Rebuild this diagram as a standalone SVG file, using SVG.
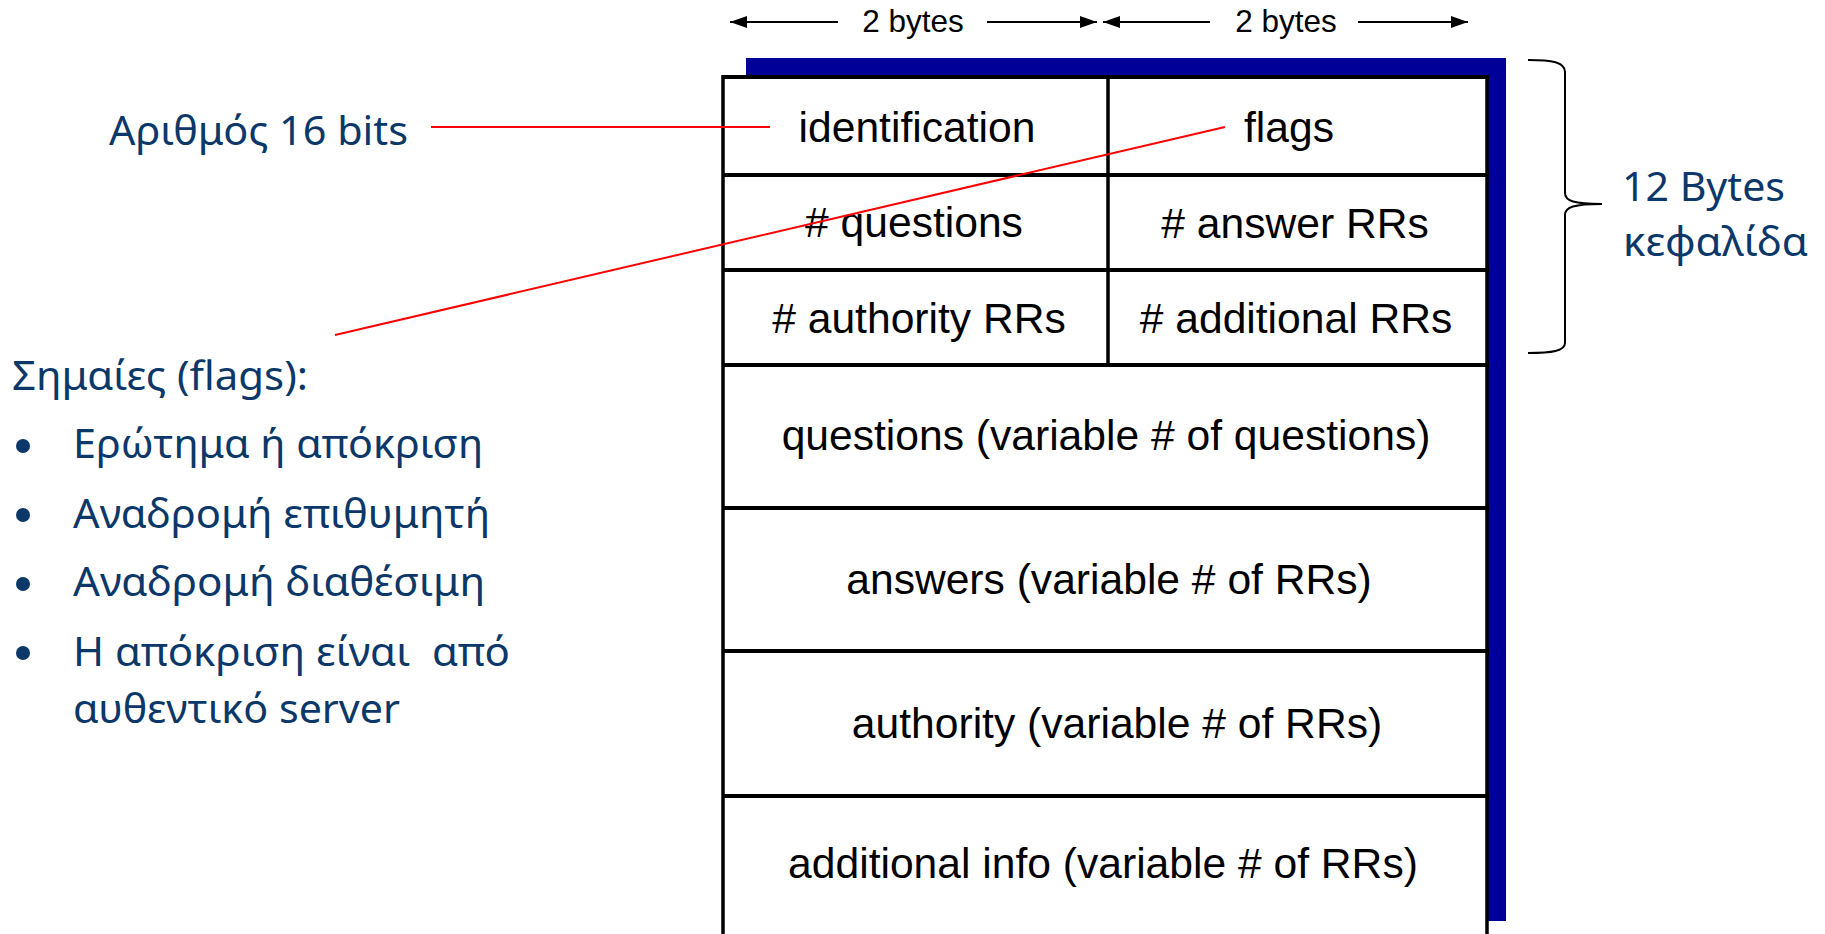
<svg xmlns="http://www.w3.org/2000/svg" width="1825" height="934" viewBox="0 0 1825 934">
<style>
.cell{font-family:"Liberation Sans",Arial,sans-serif;font-size:42.6px;fill:#000;text-anchor:middle}
.dim{font-family:"Liberation Sans",Arial,sans-serif;font-size:31.5px;fill:#000;text-anchor:middle}
.note{font-family:"Noto Sans","Open Sans",sans-serif;font-size:40px;fill:#0B3868;white-space:pre}
.hl{stroke:#000;stroke-width:4;fill:none}
.vl{stroke:#000;stroke-width:3.5;fill:none}
.red{stroke:#FF0000;stroke-width:2;fill:none}
.arr{stroke:#000;stroke-width:2;fill:none;marker-end:url(#ah)}
</style>
<defs>
<marker id="ah" viewBox="0 0 17 12" refX="17" refY="6" markerWidth="17" markerHeight="12" markerUnits="userSpaceOnUse" orient="auto"><path d="M0,0 L17,6 L0,12 z" fill="#000"/></marker>
</defs>
<rect width="1825" height="934" fill="#fff"/>

<!-- byte-width arrows -->
<g id="dimensions">
<line class="arr" x1="838" y1="22" x2="730" y2="22"/>
<line class="arr" x1="987" y1="22" x2="1097" y2="22"/>
<text class="dim" x="913" y="32">2 bytes</text>
<line class="arr" x1="1210" y1="22" x2="1103" y2="22"/>
<line class="arr" x1="1358" y1="22" x2="1468" y2="22"/>
<text class="dim" x="1286" y="32">2 bytes</text>
</g>

<!-- shadow band -->
<rect id="shadow" x="746" y="58" width="760" height="863" fill="#000099"/>

<!-- table -->
<g id="table">
<rect x="723" y="77" width="764" height="870" fill="#fff"/>
<line class="hl" x1="723" y1="77" x2="1489" y2="77"/>
<line class="vl" x1="723" y1="75" x2="723" y2="934"/>
<line class="vl" x1="1487" y1="75" x2="1487" y2="934"/>
<line class="vl" x1="1108" y1="77" x2="1108" y2="365"/>
<line class="hl" x1="723" y1="175" x2="1489" y2="175"/>
<line class="hl" x1="723" y1="270" x2="1489" y2="270"/>
<line class="hl" x1="723" y1="365" x2="1489" y2="365"/>
<line class="hl" x1="723" y1="508" x2="1489" y2="508"/>
<line class="hl" x1="723" y1="651" x2="1489" y2="651"/>
<line class="hl" x1="723" y1="796" x2="1489" y2="796"/>
</g>
<g id="identification"><text class="cell" x="917" y="142">identification</text></g>
<g id="flags"><text class="cell" x="1289" y="142">flags</text></g>
<g id="num-questions"><text class="cell" x="914" y="237">#&#160;questions</text></g>
<g id="num-answer"><text class="cell" x="1295" y="238">#&#160;answer RRs</text></g>
<g id="num-authority"><text class="cell" x="919" y="333">#&#160;authority RRs</text></g>
<g id="num-additional"><text class="cell" x="1296" y="333">#&#160;additional RRs</text></g>
<g id="questions"><text class="cell" x="1106" y="450">questions (variable # of questions)</text></g>
<g id="answers"><text class="cell" x="1109" y="594">answers (variable # of RRs)</text></g>
<g id="authority"><text class="cell" x="1117" y="738">authority (variable # of RRs)</text></g>
<g id="additional"><text class="cell" x="1103" y="878">additional info (variable # of RRs)</text></g>

<!-- header brace -->
<g id="header-brace">
<path d="M1528,60 C1552,60 1565,62 1565,72 L1565,193 C1565,201 1574,204 1602,204 C1574,204 1565,207 1565,215 L1565,343 C1565,351 1552,353 1528,353" stroke="#000" stroke-width="2" fill="none"/>
<text class="note" x="1622" y="201" textLength="163" lengthAdjust="spacingAndGlyphs">12 Bytes</text>
<text class="note" x="1623" y="256" textLength="185" lengthAdjust="spacingAndGlyphs">κεφαλίδα</text>
</g>

<!-- annotations -->
<g id="id-note"><text class="note" x="109" y="145" textLength="299" lengthAdjust="spacingAndGlyphs">Αριθμός 16 bits</text></g>
<g id="flags-note">
<text class="note" x="12" y="390" textLength="296" lengthAdjust="spacingAndGlyphs">Σημαίες (flags):</text>
<circle cx="23" cy="446" r="7" fill="#0B3868"/>
<text class="note" x="73" y="458" textLength="410" lengthAdjust="spacingAndGlyphs">Ερώτημα ή απόκριση</text>
<circle cx="23" cy="515" r="7" fill="#0B3868"/>
<text class="note" x="73" y="528" textLength="417" lengthAdjust="spacingAndGlyphs">Αναδρομή επιθυμητή</text>
<circle cx="23" cy="584" r="7" fill="#0B3868"/>
<text class="note" x="73" y="596" textLength="412" lengthAdjust="spacingAndGlyphs">Αναδρομή διαθέσιμη</text>
<circle cx="23" cy="653" r="7" fill="#0B3868"/>
<text class="note" x="73" y="666" textLength="437" lengthAdjust="spacingAndGlyphs">Η απόκριση είναι  από</text>
<text class="note" x="73" y="723" textLength="327" lengthAdjust="spacingAndGlyphs">αυθεντικό server</text>
</g>

<!-- connectors -->
<g id="connectors">
<line class="red" x1="431" y1="127" x2="770" y2="127"/>
<line class="red" x1="1225" y1="127" x2="335" y2="335"/>
</g>
</svg>
